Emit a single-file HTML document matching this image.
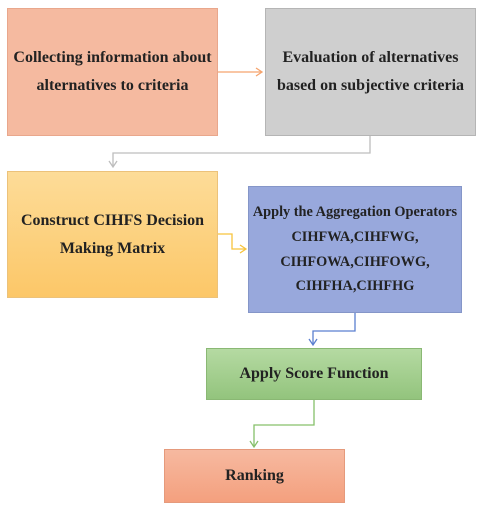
<!DOCTYPE html>
<html><head><style>
body{margin:0;background:#fff;width:483px;height:512px;position:relative;overflow:hidden;font-family:"Liberation Serif",serif;font-weight:bold;color:#222}
.b{position:absolute;box-sizing:border-box;display:flex;flex-direction:column;justify-content:center;align-items:center;text-align:center}
.b div{white-space:nowrap}
</style></head><body>
<div class="b" style="left:7px;top:8px;width:211px;height:128px;background:#f5baa0;border:1px solid #e9a78c;font-size:16px;line-height:28px">
<div>Collecting information about</div><div>alternatives to criteria</div></div>
<div class="b" style="left:265px;top:8px;width:211px;height:128px;background:#cfcfcf;border:1px solid #b5b5b5;font-size:16px;line-height:28px">
<div>Evaluation of alternatives</div><div>based on subjective criteria</div></div>
<div class="b" style="left:7px;top:171px;width:211px;height:127px;background:linear-gradient(#fddc98,#fcc768);border:1px solid #ecc27a;font-size:16px;line-height:28px">
<div>Construct CIHFS Decision</div><div>Making Matrix</div></div>
<div class="b" style="left:248px;top:186px;width:214px;height:127px;background:#98a8dc;border:1px solid #8596c8;font-size:14.3px;line-height:24.8px">
<div>Apply the Aggregation Operators</div><div>CIHFWA,CIHFWG,</div><div>CIHFOWA,CIHFOWG,</div><div>CIHFHA,CIHFHG</div></div>
<div class="b" style="left:206px;top:348px;width:216px;height:52px;background:linear-gradient(#b5daa2,#93c47d);border:1px solid #8ab874;font-size:16px">
<div>Apply Score Function</div></div>
<div class="b" style="left:164px;top:449px;width:181px;height:54px;background:linear-gradient(#f6b9a0,#f4a07e);border:1px solid #e59a7c;font-size:16px">
<div>Ranking</div></div>
<svg width="483" height="512" style="position:absolute;left:0;top:0" fill="none" stroke-width="1.3">
<path d="M218 72H261M256 68L262 72L256 76" stroke="#f5a46e"/>
<path d="M370 136V153H113V166M109 161L113 167L117 161" stroke="#bdbdbd"/>
<path d="M218 234H232V249H245M240 245L246 249L240 253" stroke="#f7c43c"/>
<path d="M355 313V331H313V344M309 339L313 345L317 339" stroke="#5b7fd0"/>
<path d="M314 400V425H254V446M250 441L254 447L258 441" stroke="#86c06a"/>
</svg>
</body></html>
